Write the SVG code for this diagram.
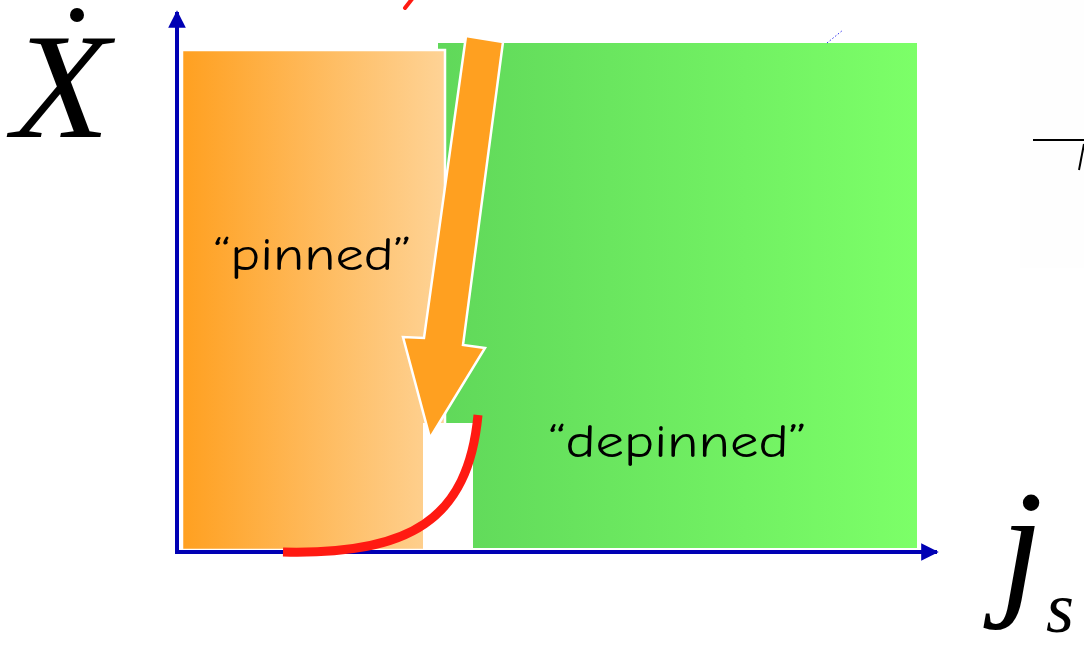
<svg xmlns="http://www.w3.org/2000/svg" width="1084" height="649" viewBox="0 0 1084 649">
  <defs>
    <linearGradient id="gOrange" x1="0" y1="0" x2="1" y2="0">
      <stop offset="0" stop-color="#FFA020"/>
      <stop offset="1" stop-color="#FED396"/>
    </linearGradient>
    <linearGradient id="gGreen" x1="0" y1="0" x2="1" y2="0">
      <stop offset="0" stop-color="#60D85A"/>
      <stop offset="1" stop-color="#7CFF68"/>
    </linearGradient>
    <marker id="axisHead" viewBox="0 0 10 10" refX="9" refY="5" markerWidth="4.4" markerHeight="4.4" markerUnits="strokeWidth" orient="auto">
      <path d="M0,0 L10,5 L0,10 Z" fill="#0000B4"/>
    </marker>
  </defs>
  <style>
    .label { font-family: "Comic Neue", "DejaVu Sans", sans-serif; font-size: 46px; fill: #000; }
    .math { font-family: "Liberation Serif", "Times New Roman", serif; font-style: italic; fill: #000; }
    .axis { stroke: #0000B4; stroke-width: 4; fill: none; }
  </style>

  <!-- faint backdrop at the right edge -->
  <rect x="1020" y="0" width="64" height="268" fill="#FEFEFE"/>

  <!-- regions -->
  <g id="depinned-region">
    <rect x="438" y="43" width="479" height="505" fill="url(#gGreen)"/>
  </g>
  <g id="pinned-region">
    <rect x="182" y="50" width="263" height="500" fill="url(#gOrange)" stroke="#FFFFFF" stroke-width="2.5"/>
  </g>
  <!-- gap between the two regions -->
  <rect x="423" y="423" width="50" height="126" fill="#FFFFFF"/>

  <!-- axes -->
  <g id="connectors">
    <line class="axis" x1="177" y1="554" x2="177" y2="12" marker-end="url(#axisHead)"/>
    <line class="axis" x1="175" y1="552" x2="937" y2="552" marker-end="url(#axisHead)"/>
    <!-- transition arrow -->
    <polygon points="466,36 503,42 463,345 485,348 430,438 403,337 424,338" fill="#FFA020" stroke="#FFFFFF" stroke-width="2.5" stroke-linejoin="miter"/>
    <!-- velocity curve -->
    <path d="M283,552 C410,555 468,520 478,415" fill="none" stroke="#FF1A12" stroke-width="9"/>
    <!-- small marks -->
    <line x1="405" y1="8" x2="412" y2="-1" stroke="#FF1A12" stroke-width="4" stroke-linecap="round"/>
    <line x1="827" y1="43" x2="843" y2="30" stroke="#3030F0" stroke-width="1" stroke-dasharray="1.5,2"/>
    <line x1="1033" y1="140" x2="1084" y2="140" stroke="#000" stroke-width="2"/>
    <line x1="1084" y1="144" x2="1079" y2="170" stroke="#000" stroke-width="2"/>
  </g>

  <!-- labels -->
  <g id="label-pinned">
    <text class="label" x="213" y="270" textLength="199" lengthAdjust="spacingAndGlyphs">“pinned”</text>
  </g>
  <g id="label-depinned">
    <text class="label" x="548" y="457" textLength="259" lengthAdjust="spacingAndGlyphs">“depinned”</text>
  </g>
  <g id="label-xdot">
    <text class="math" x="12" y="137" font-size="150" textLength="98" lengthAdjust="spacingAndGlyphs">X</text>
    <circle cx="77" cy="15" r="7" fill="#000"/>
  </g>
  <g id="label-js">
    <text class="math" x="1000" y="597" font-size="155">j</text>
    <text class="math" x="1046" y="632" font-size="72">s</text>
  </g>
</svg>
